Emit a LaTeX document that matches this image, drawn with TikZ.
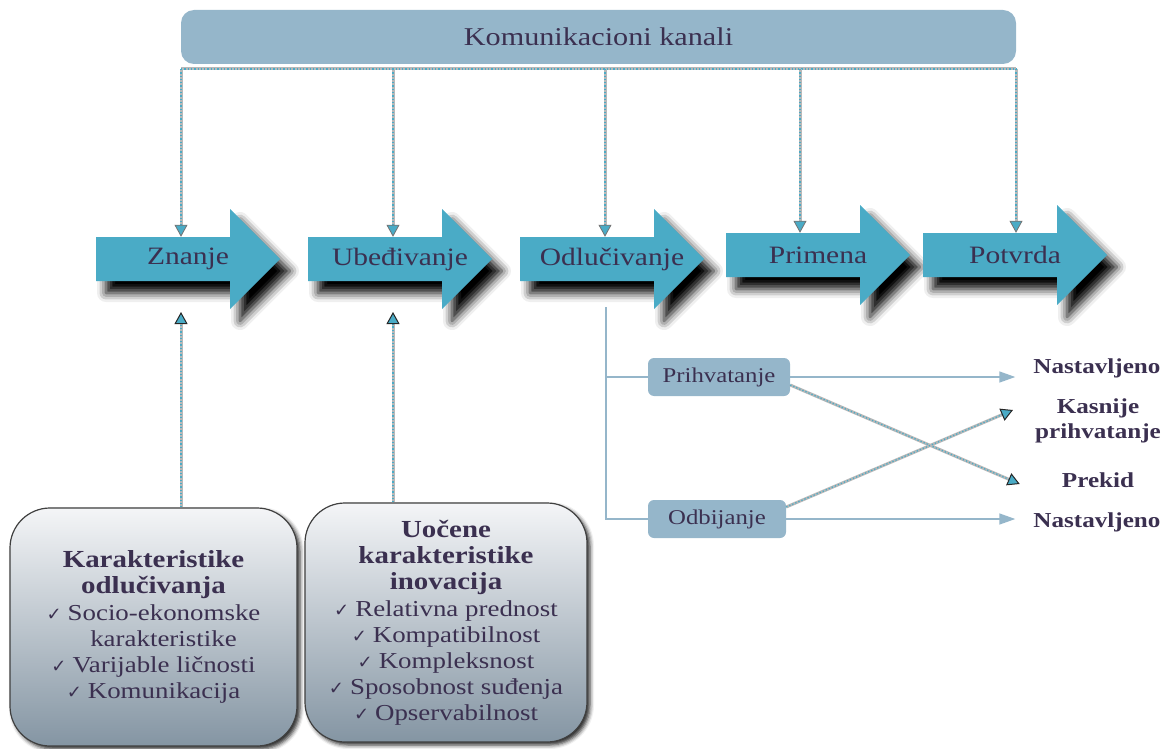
\documentclass[tikz,border=0pt]{standalone}
\usepackage{fontspec}
\setmainfont{Liberation Serif}[FakeStretch=1.18]
\newfontfamily\symfont{DejaVu Sans}
\usetikzlibrary{arrows.meta,shadows.blur,calc}

\definecolor{ink}{HTML}{3B3050}
\definecolor{steel}{HTML}{95B6CA}
\definecolor{sea}{HTML}{4AABC6}
\definecolor{boxtop}{HTML}{F4F5F7}
\definecolor{boxbot}{HTML}{8495A3}

\newcommand\ck{{\symfont\fontsize{18}{18}\selectfont ✓}\hspace{6pt}}
\newcommand\hd[1]{{\fontsize{24.5}{25}\selectfont\bfseries #1}}

\tikzset{
  fs/.style={font=\fontsize{#1}{#1}\selectfont},
  banner/.style={fill=steel, rounded corners=13pt, minimum width=835pt,
    minimum height=54pt, text=ink, fs=25.6},
  arrowshape/.style={fill=sea, blur shadow={shadow xshift=10pt, shadow yshift=-12pt,
    shadow blur radius=9pt, shadow opacity=100}},
  arrowlabel/.style={text=ink, fs=25, minimum width=184pt, minimum height=44pt, inner sep=0pt},
  busunder/.style={draw=black!28, line width=3pt},
  busover/.style={draw=sea, line width=1.3pt, dotted},
  bustip/.style={-{Triangle[width=13pt,length=12pt,fill=sea,color=black!55,line width=0.8pt]}},
  bustipd/.style={-{Triangle[width=13pt,length=12pt,fill=sea,color=black!85,line width=1pt]}},
  charbox/.style={rounded corners=40pt, top color=boxtop, bottom color=boxbot,
    draw=black!75, line width=1.2pt, text=ink, align=center, inner sep=0pt,
    font=\fontsize{22.8}{26}\selectfont,
    blur shadow={shadow xshift=3pt, shadow yshift=-3pt, shadow blur radius=4pt, shadow opacity=85}},
  smallbox/.style={fill=steel, rounded corners=6pt, minimum height=38pt, text=ink,
    fs=21, inner sep=0pt},
  decline/.style={draw=steel, line width=1.5pt},
  decarrow/.style={decline, -{Triangle[width=11pt,length=16pt,fill=steel]}},
  outcome/.style={text=ink, font=\bfseries\fontsize{21.3}{25}\selectfont, align=center, inner sep=0pt},
}

% block arrow: name, left x, centre y, label
\newcommand\blockarrow[4]{%
  \path[arrowshape] (#2,#3-22) -- (#2+134,#3-22) -- (#2+134,#3-50) -- (#2+184,#3)
    -- (#2+134,#3+50) -- (#2+134,#3+22) -- (#2,#3+22) -- cycle;
  \node[arrowlabel] (#1) at (#2+92,#3) {#4};
}

\begin{document}
\begin{tikzpicture}[x=1pt, y=-1pt]
\useasboundingbox (0,0) rectangle (1169,749);

% communication channels banner
\node[banner] (kan) at (598.5,37) {Komunikacioni kanali};

% stage arrows
\blockarrow{zn}{96}{259}{Znanje}
\blockarrow{ub}{308}{259}{Ubeđivanje}
\blockarrow{od}{520}{259}{Odlučivanje}
\blockarrow{pr}{726}{255}{Primena}
\blockarrow{po}{923}{255}{Potvrda}

% distribution bus below the banner
\coordinate (b1) at (181,69);
\coordinate (b2) at (393,69);
\coordinate (b3) at (605,69);
\coordinate (b4) at (800,69);
\coordinate (b5) at (1016,69);
\draw[busunder] (b1) -- (b5);
\draw[busover] (b1) -- (b5);
\foreach \b/\t in {b1/zn, b2/ub, b3/od, b4/pr, b5/po}{
  \draw[busunder, shorten >=10pt] (\b) -- (\b |- \t.north);
  \draw[busover, bustip] (\b) -- (\b |- \t.north);
}

% characteristic boxes
\node[charbox, minimum width=287pt, minimum height=238pt] (ch1) at (153.5,627) {%
  \hd{Karakteristike}\\
  \hd{odlučivanja}\\[1pt]
  \ck Socio-ekonomske\\
  \hspace*{20pt}karakteristike\\
  \ck Varijable ličnosti\\
  \ck Komunikacija};
\node[charbox, minimum width=282pt, minimum height=239pt] (ch2) at (446,622.5) {%
  \hd{Uočene}\\
  \hd{karakteristike}\\
  \hd{inovacija}\\[1pt]
  \ck Relativna prednost\\
  \ck Kompatibilnost\\
  \ck Kompleksnost\\
  \ck Sposobnost suđenja\\
  \ck Opservabilnost};

\coordinate (u1) at (181,312);
\coordinate (u2) at (393,312);
\draw[busunder, shorten >=10pt] (ch1.north -| u1) -- (u1);
\draw[busover, bustipd] (ch1.north -| u1) -- (u1);
\draw[busunder, shorten >=10pt] (ch2.north -| u2) -- (u2);
\draw[busover, bustipd] (ch2.north -| u2) -- (u2);

% decision outcomes
\node[smallbox, minimum width=142pt] (pri) at (719,377) {Prihvatanje};
\node[smallbox, minimum width=138pt] (odb) at (717,519) {Odbijanje};
\coordinate (split) at (606,307);
\draw[decline] (split) |- (pri.west);
\draw[decline] (split) |- (odb.west);

\node[outcome] (n1) at (1097,368) {Nastavljeno};
\node[outcome] (kp) at (1098,421) {Kasnije\\prihvatanje};
\node[outcome] (pk) at (1098,480) {Prekid};
\node[outcome] (n2) at (1097,522) {Nastavljeno};

\draw[decarrow] (pri.east) -- ($(n1.west |- pri.east)+(-18,0)$);
\draw[decarrow] (odb.east) -- ($(n2.west |- odb.east)+(-18,0)$);

\coordinate (c1) at ($(pri.east)+(0,8)$);
\coordinate (c2) at ($(pk.west)+(-42,4)$);
\coordinate (c3) at ($(odb.east)+(0,-12)$);
\coordinate (c4) at ($(kp.west)+(-22,-11)$);
\draw[busunder, shorten >=10pt] (c1) -- (c2);
\draw[busover, bustipd] (c1) -- (c2);
\draw[busunder, shorten >=10pt] (c3) -- (c4);
\draw[busover, bustipd] (c3) -- (c4);
\end{tikzpicture}
\end{document}
